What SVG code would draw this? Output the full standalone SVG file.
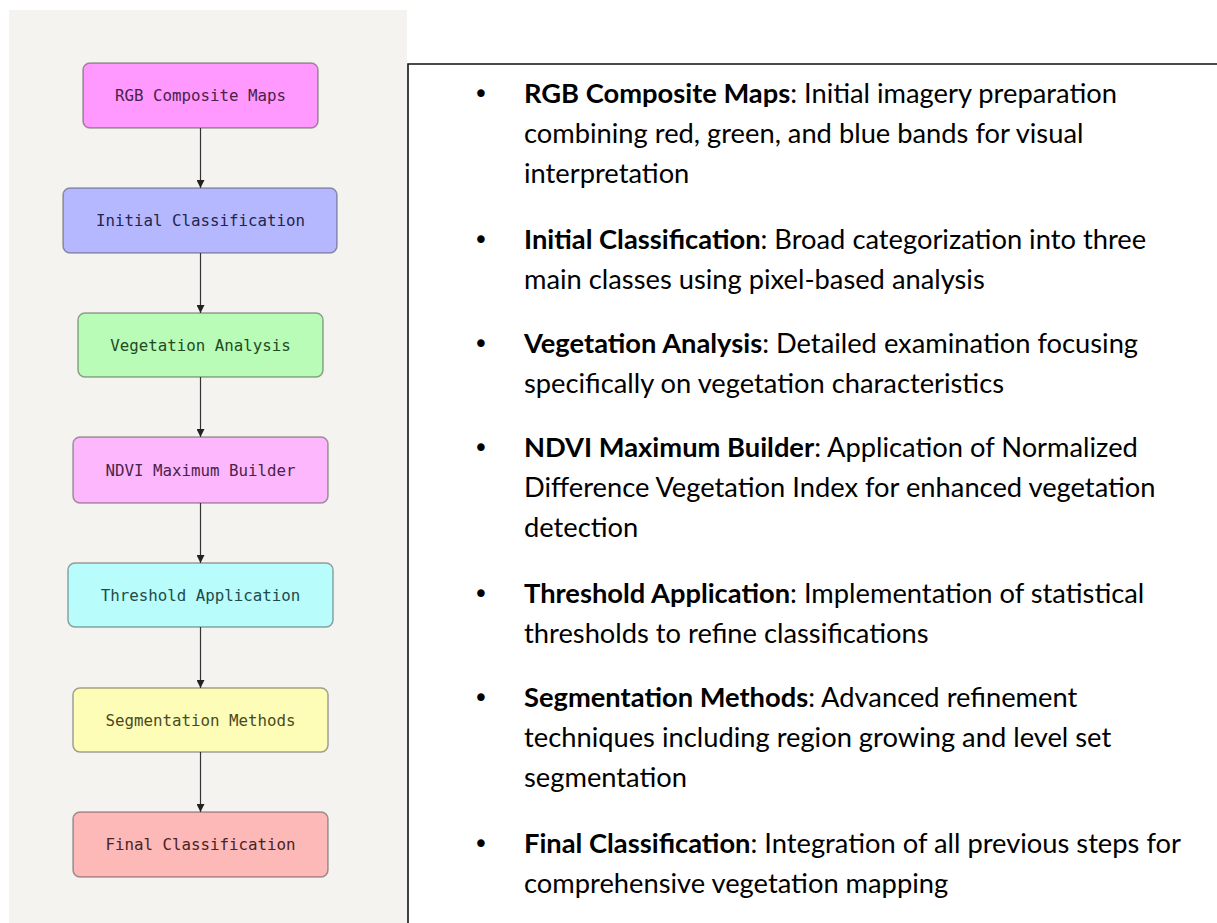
<svg xmlns="http://www.w3.org/2000/svg" width="1217" height="923" viewBox="0 0 1217 923">
<defs>
<style>
.node rect{stroke:#333;stroke-opacity:0.45;stroke-width:1.5}
.node text{font-family:"DejaVu Sans Mono","Liberation Mono",monospace;font-size:15.8px;text-anchor:middle}
.edge{stroke:#333;stroke-width:1.2;fill:none}
.desc{font-family:Lato,"Open Sans","Liberation Sans",sans-serif;font-size:27.3px;fill:#000}
.bul{font-family:"DejaVu Sans","Liberation Sans",sans-serif;font-size:26px;fill:#000;text-anchor:middle}
</style>
<marker id="arr" viewBox="0 0 10 10" refX="10" refY="5" markerWidth="8" markerHeight="8" markerUnits="userSpaceOnUse" orient="auto">
<path d="M0,0 L10,5 L0,10 Z" fill="#222"/>
</marker>
</defs>
<rect x="0" y="0" width="1217" height="923" fill="#ffffff"/>
<rect id="left-panel" x="9" y="10" width="398" height="913" fill="#f5f3f0"/>
<g id="right-panel">
<path d="M408,923 L408,64 L1217,64" fill="none" stroke="#111" stroke-width="1.6"/>
</g>
<g id="connectors">
<line class="edge" x1="200.5" y1="128" x2="200.5" y2="188" marker-end="url(#arr)"/>
<line class="edge" x1="200.5" y1="253" x2="200.5" y2="313" marker-end="url(#arr)"/>
<line class="edge" x1="200.5" y1="377" x2="200.5" y2="437" marker-end="url(#arr)"/>
<line class="edge" x1="200.5" y1="503" x2="200.5" y2="563" marker-end="url(#arr)"/>
<line class="edge" x1="200.5" y1="627" x2="200.5" y2="688" marker-end="url(#arr)"/>
<line class="edge" x1="200.5" y1="752" x2="200.5" y2="812" marker-end="url(#arr)"/>
</g>
<g id="n1" class="node"><rect x="83" y="63" width="235" height="65" rx="7" fill="#ff99ff"/><text x="200.5" y="101" fill="#4a2248">RGB Composite Maps</text></g>
<g id="n2" class="node"><rect x="63" y="188" width="274" height="65" rx="7" fill="#b5b8ff"/><text x="200.5" y="226" fill="#22254a">Initial Classification</text></g>
<g id="n3" class="node"><rect x="78" y="313" width="245" height="64" rx="7" fill="#b8fcb8"/><text x="200.5" y="350.5" fill="#224a22">Vegetation Analysis</text></g>
<g id="n4" class="node"><rect x="73" y="437" width="255" height="66" rx="7" fill="#fdb8fd"/><text x="200.5" y="475.5" fill="#4a224a">NDVI Maximum Builder</text></g>
<g id="n5" class="node"><rect x="68" y="563" width="265" height="64" rx="7" fill="#b8fcfc"/><text x="200.5" y="600.5" fill="#224a4a">Threshold Application</text></g>
<g id="n6" class="node"><rect x="73" y="688" width="255" height="64" rx="7" fill="#fdfdb8"/><text x="200.5" y="725.5" fill="#4a4a22">Segmentation Methods</text></g>
<g id="n7" class="node"><rect x="73" y="812" width="255" height="65" rx="7" fill="#fdb8b8"/><text x="200.5" y="850" fill="#4a2222">Final Classification</text></g>
<g id="descriptions">
<text class="bul" x="481" y="103">•</text>
<text class="desc" x="524" y="103"><tspan font-weight="bold">RGB Composite Maps</tspan>: Initial imagery preparation</text>
<text class="desc" x="524" y="143">combining red, green, and blue bands for visual</text>
<text class="desc" x="524" y="183">interpretation</text>
<text class="bul" x="481" y="249">•</text>
<text class="desc" x="524" y="249"><tspan font-weight="bold">Initial Classification</tspan>: Broad categorization into three</text>
<text class="desc" x="524" y="289">main classes using pixel-based analysis</text>
<text class="bul" x="481" y="353">•</text>
<text class="desc" x="524" y="353"><tspan font-weight="bold">Vegetation Analysis</tspan>: Detailed examination focusing</text>
<text class="desc" x="524" y="393">specifically on vegetation characteristics</text>
<text class="bul" x="481" y="457">•</text>
<text class="desc" x="524" y="457"><tspan font-weight="bold">NDVI Maximum Builder</tspan>: Application of Normalized</text>
<text class="desc" x="524" y="497">Difference Vegetation Index for enhanced vegetation</text>
<text class="desc" x="524" y="537">detection</text>
<text class="bul" x="481" y="603">•</text>
<text class="desc" x="524" y="603"><tspan font-weight="bold">Threshold Application</tspan>: Implementation of statistical</text>
<text class="desc" x="524" y="643">thresholds to refine classifications</text>
<text class="bul" x="481" y="707">•</text>
<text class="desc" x="524" y="707"><tspan font-weight="bold">Segmentation Methods</tspan>: Advanced refinement</text>
<text class="desc" x="524" y="747">techniques including region growing and level set</text>
<text class="desc" x="524" y="787">segmentation</text>
<text class="bul" x="481" y="853">•</text>
<text class="desc" x="524" y="853"><tspan font-weight="bold">Final Classification</tspan>: Integration of all previous steps for</text>
<text class="desc" x="524" y="893">comprehensive vegetation mapping</text>
</g>
</svg>
